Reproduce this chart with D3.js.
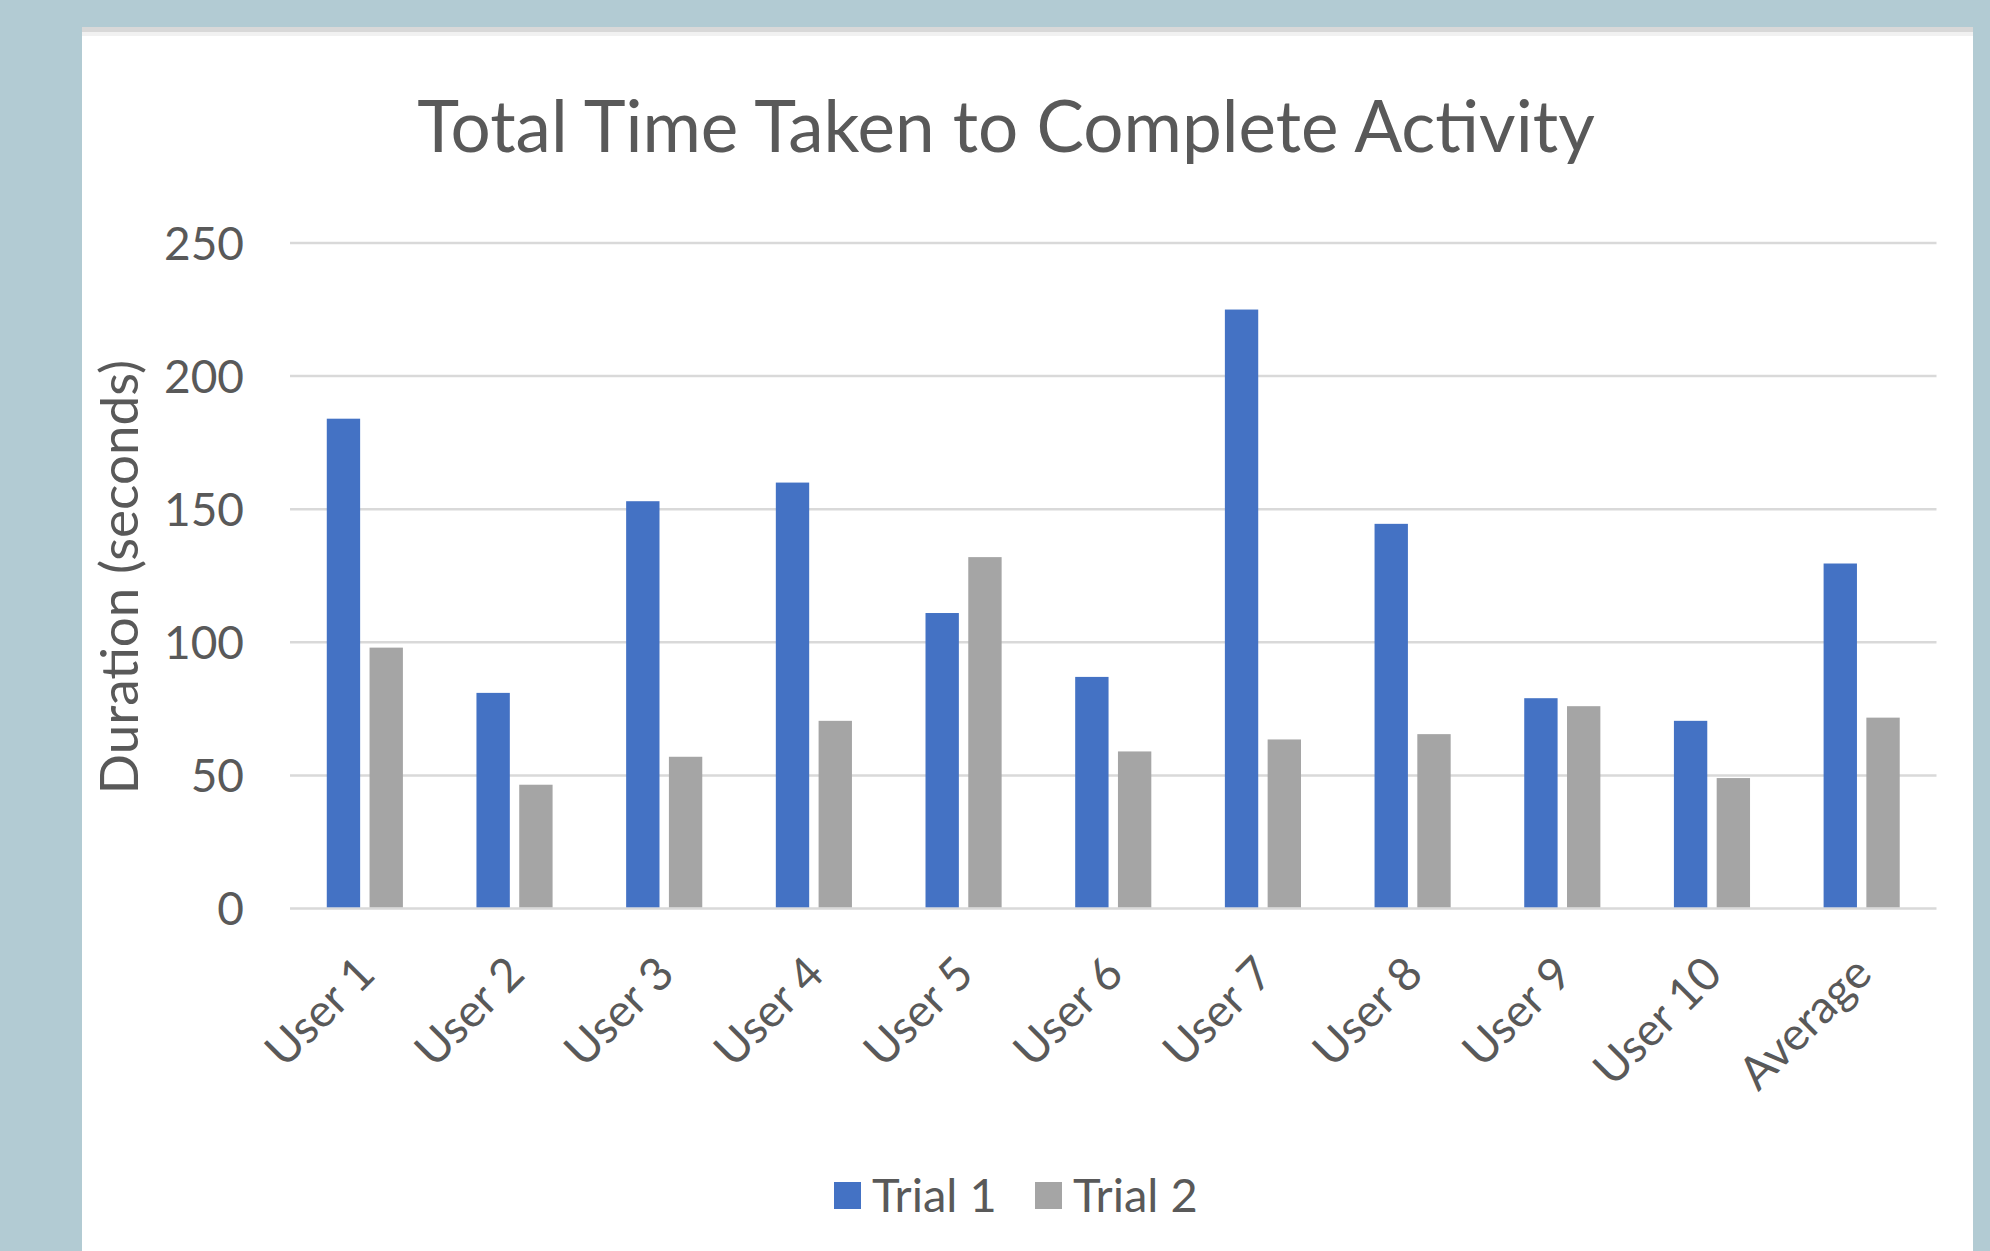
<!DOCTYPE html>
<html>
<head>
<meta charset="utf-8">
<script src="https://cdn.jsdelivr.net/npm/d3@7"></script>
<style>
  html, body { margin: 0; padding: 0; background: #b2cbd3; }
  svg { display: block; }
  text { font-family: Lato, "Open Sans", sans-serif; fill: #595959; }
</style>
</head>
<body>
<svg id="chart" width="1990" height="1251"></svg>
<script>
// ---- data ----
const categories = ["User 1", "User 2", "User 3", "User 4", "User 5", "User 6", "User 7", "User 8", "User 9", "User 10", "Average"];
const seriesNames = ["Trial 1", "Trial 2"];
const trial1 = [184, 81, 153, 160, 111, 87, 225, 144.5, 79, 70.5, 129.6];
const trial2 = [98, 46.5, 57, 70.5, 132, 59, 63.5, 65.5, 76, 49, 71.7];
const yTicks = [0, 50, 100, 150, 200, 250];
const colors = ["#4472C4", "#A5A5A5"];
const title = "Total Time Taken to Complete Activity";
const yTitle = "Duration (seconds)";

const seriesValues = [trial1, trial2];

const svg = d3.select("#chart");
const W = 1990, H = 1251;

// background + panel
svg.append("rect").attr("x", 0).attr("y", 0).attr("width", W).attr("height", H).attr("fill", "#b2cbd3");
svg.append("rect").attr("x", 82).attr("y", 27).attr("width", 1891).attr("height", H - 27).attr("fill", "#ffffff");
svg.append("rect").attr("x", 82).attr("y", 27).attr("width", 1891).attr("height", 5).attr("fill", "#d8d8d8");
svg.append("rect").attr("x", 82).attr("y", 32).attr("width", 1891).attr("height", 4).attr("fill", "#f1f1f1");

// scales
const plotLeft = 290, plotRight = 1936.5, yBase = 908.5, yTop = 243;
const x0 = d3.scaleBand().domain(categories).range([plotLeft, plotRight]).padding(0);
const x1 = d3.scaleBand().domain(seriesNames).range([0, x0.bandwidth()]).paddingInner(0.22).paddingOuter(0.86);
const y = d3.scaleLinear().domain([0, 250]).range([yBase, yTop]);

// gridlines
svg.append("g").selectAll("line").data(yTicks).join("line")
  .attr("x1", plotLeft).attr("x2", plotRight)
  .attr("y1", d => y(d)).attr("y2", d => y(d))
  .attr("stroke", "#d9d9d9").attr("stroke-width", 2.5);

// bars
const groups = svg.append("g").selectAll("g").data(categories).join("g")
  .attr("transform", d => `translate(${x0(d)},0)`);
groups.selectAll("rect")
  .data((c, i) => seriesNames.map((s, k) => ({ s, k, v: seriesValues[k][i] })))
  .join("rect")
  .attr("x", d => x1(d.s))
  .attr("width", x1.bandwidth())
  .attr("y", d => y(d.v))
  .attr("height", d => y(0) - 1.2 - y(d.v))
  .attr("fill", d => colors[d.k]);

// y tick labels
svg.append("g").selectAll("text").data(yTicks).join("text")
  .attr("x", 244).attr("y", d => y(d)).attr("dy", "0.36em")
  .attr("text-anchor", "end").attr("font-size", 46)
  .text(d => d);

// y title
svg.append("text")
  .attr("transform", "translate(138,577) rotate(-90)")
  .attr("text-anchor", "middle").attr("font-size", 53)
  .text(yTitle);

// x labels
svg.append("g").selectAll("text").data(categories).join("text")
  .attr("transform", d => `translate(${x0(d) + x0.bandwidth() / 2 - 11},953) rotate(-45)`)
  .attr("text-anchor", "end").attr("dy", "0.72em").attr("font-size", 46)
  .text(d => d);

// title
svg.append("text")
  .attr("x", 1006).attr("y", 152)
  .attr("text-anchor", "middle").attr("font-size", 71)
  .text(title);

// legend
const legendX = [834, 1035];
const lg = svg.append("g").selectAll("g").data(seriesNames).join("g")
  .attr("transform", (d, i) => `translate(${legendX[i]},1182)`);
lg.append("rect").attr("width", 27).attr("height", 27).attr("fill", (d, i) => colors[i]);
lg.append("text").attr("x", 38).attr("y", 30).attr("font-size", 47).text(d => d);
</script>
</body>
</html>
